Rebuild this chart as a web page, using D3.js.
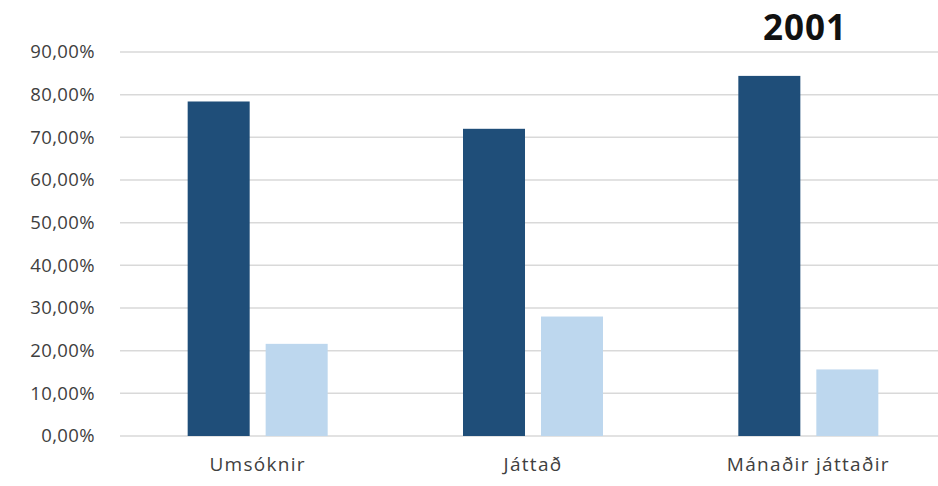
<!DOCTYPE html>
<html>
<head>
<meta charset="utf-8">
<script src="https://cdn.jsdelivr.net/npm/d3@7"></script>
<style>
  body { margin: 0; background: #fff; }
  text { font-family: "Open Sans", sans-serif; }
</style>
</head>
<body>
<div id="chart"></div>
<script>
// data
var categories = ["Umsóknir", "Játtað", "Mánaðir játtaðir"];
var seriesDark = [78.4, 72.0, 84.4];
var seriesLight = [21.6, 28.0, 15.6];
var yTicks = [0, 10, 20, 30, 40, 50, 60, 70, 80, 90];
var title = "2001";

var svgWidth = 938;
var svgHeight = 486;

var margin = { top: 52, right: -8, bottom: 50, left: 120 };
var width = svgWidth - margin.left - margin.right;
var height = svgHeight - margin.top - margin.bottom;

var svg = d3.select("#chart")
  .append("svg")
  .attr("width", svgWidth)
  .attr("height", svgHeight);

var chartGroup = svg.append("g")
  .attr("transform", `translate(${margin.left}, ${margin.top})`);

var xScale = d3.scaleBand().domain(categories).range([0, width]).padding(0);
var yScale = d3.scaleLinear().domain([0, 90]).range([height, 0]);

// inner scale for the two series
var groupW = 140;
var xInner = d3.scaleBand().domain(["dark", "light"])
  .range([0, groupW]).paddingInner(0.205);

// gridlines
chartGroup.selectAll(".grid")
  .data(yTicks)
  .enter().append("line")
  .attr("x1", 0)
  .attr("x2", width)
  .attr("y1", d => yScale(d))
  .attr("y2", d => yScale(d))
  .attr("stroke", "#d9d9d9")
  .attr("stroke-width", 1.5);

var rows = categories.map(function(c, i) {
  return { cat: c, dark: seriesDark[i], light: seriesLight[i] };
});

var colors = { dark: "#1f4e79", light: "#bdd7ee" };

rows.forEach(function(r) {
  var x0 = xScale(r.cat) + (xScale.bandwidth() - groupW) / 2;
  ["dark", "light"].forEach(function(k) {
    chartGroup.append("rect")
      .attr("x", x0 + xInner(k))
      .attr("y", yScale(r[k]))
      .attr("width", xInner.bandwidth())
      .attr("height", height - yScale(r[k]))
      .attr("fill", colors[k]);
  });
});

// y axis labels
var leftAxis = d3.axisLeft(yScale)
  .tickValues(yTicks)
  .tickSize(0)
  .tickPadding(25)
  .tickFormat(d => d3.format(".2f")(d).replace(".", ",") + "%");

chartGroup.append("g")
  .call(leftAxis)
  .call(g => g.select(".domain").remove())
  .selectAll("text")
  .attr("font-size", 18.5)
  .attr("letter-spacing", 0.4)
  .attr("fill", "#404040")
  .attr("font-family", "Open Sans, sans-serif");

// x axis labels
var bottomAxis = d3.axisBottom(xScale).tickSize(0).tickPadding(22);
chartGroup.append("g")
  .attr("transform", `translate(0, ${height})`)
  .call(bottomAxis)
  .call(g => g.select(".domain").remove())
  .selectAll("text")
  .attr("font-size", 19)
  .attr("letter-spacing", 1.3)
  .attr("fill", "#404040")
  .attr("font-family", "Open Sans, sans-serif");

// title
svg.append("text")
  .attr("x", 805)
  .attr("y", 40)
  .attr("text-anchor", "middle")
  .attr("font-size", 35)
  .attr("font-weight", "bold")
  .attr("letter-spacing", 1)
  .attr("fill", "#111")
  .text(title);
</script>
</body>
</html>
